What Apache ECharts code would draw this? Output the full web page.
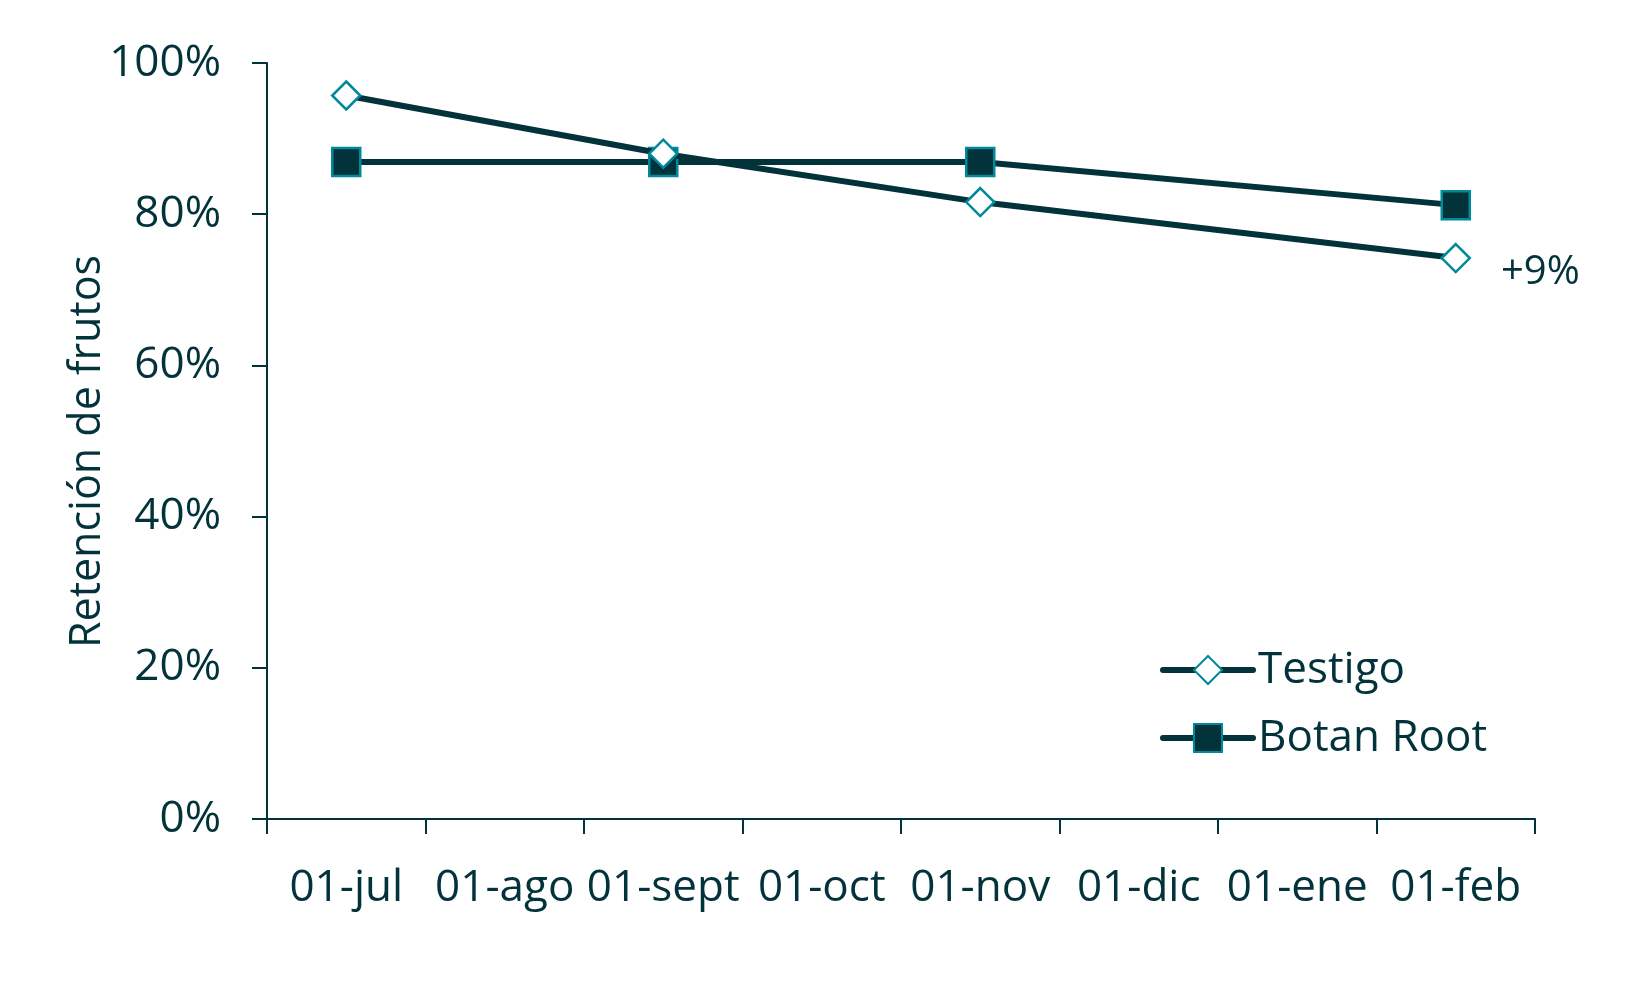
<!DOCTYPE html>
<html>
<head>
<meta charset="utf-8">
<script src="https://cdn.jsdelivr.net/npm/echarts@6/dist/echarts.min.js"></script>
<style>
html,body{margin:0;padding:0;background:#fff;}
#c{width:1637px;height:993px;}
</style>
</head>
<body>
<div id="c"></div>
<script>
const categories = ['01-jul','01-ago','01-sept','01-oct','01-nov','01-dic','01-ene','01-feb'];
const testigo = [95.7, null, 88.0, null, 81.6, null, null, 74.2];
const botanRoot = [86.9, null, 86.9, null, 86.9, null, null, 81.2];
const yTicks = [0, 20, 40, 60, 80, 100];
const annotation = '+9%';

const dark = '#02323A';
const teal = '#00899A';
const font = '"Open Sans", "Noto Sans", sans-serif';

const chart = echarts.init(document.getElementById('c'), null, {renderer: 'canvas'});

const testigoData = testigo.map((v, i) => {
  if (i === testigo.length - 1) {
    return {
      value: v,
      label: {
        show: true, position: 'right', distance: 30, offset: [0, 15],
        formatter: annotation, color: dark, fontSize: 40, fontFamily: font
      }
    };
  }
  return v;
});

chart.setOption({
  animation: false,
  backgroundColor: '#ffffff',
  grid: {left: 267, right: 102, top: 63, bottom: 174, containLabel: false},
  xAxis: {
    type: 'category',
    data: categories,
    boundaryGap: true,
    axisLine: {show: true, lineStyle: {color: dark, width: 2}},
    axisTick: {show: true, length: 15, lineStyle: {color: dark, width: 2}},
    axisLabel: {color: dark, fontSize: 44, fontFamily: font, margin: 47, interval: 0}
  },
  yAxis: {
    type: 'value',
    min: yTicks[0], max: yTicks[yTicks.length - 1], interval: 20,
    name: 'Retención de frutos',
    nameLocation: 'middle',
    nameGap: 158,
    nameMoveOverlap: false,
    nameTextStyle: {color: dark, fontSize: 43, fontFamily: font, padding: [0, 21, 0, 0]},
    splitLine: {show: false},
    axisLine: {show: true, lineStyle: {color: dark, width: 2}},
    axisTick: {show: true, length: 15, lineStyle: {color: dark, width: 2}},
    axisLabel: {color: dark, fontSize: 44, fontFamily: font, margin: 46, formatter: '{value}%'}
  },
  legend: {
    left: 1155, top: 643,
    orient: 'vertical',
    itemWidth: 90, itemHeight: 35,
    itemGap: 24,
    textStyle: {color: dark, fontSize: 44, fontFamily: font},
    lineStyle: {width: 6, cap: 'round', color: dark},
    data: ['Testigo', 'Botan Root']
  },
  series: [
    {
      name: 'Testigo', type: 'line', data: testigoData, connectNulls: true,
      symbol: 'diamond', symbolSize: 28,
      lineStyle: {color: dark, width: 6},
      itemStyle: {color: '#ffffff', borderColor: teal, borderWidth: 2.5},
      z: 3
    },
    {
      name: 'Botan Root', type: 'line', data: botanRoot, connectNulls: true,
      symbol: 'rect', symbolSize: 28,
      lineStyle: {color: dark, width: 6},
      itemStyle: {color: dark, borderColor: teal, borderWidth: 2.5},
      z: 2
    }
  ]
});
</script>
</body>
</html>
